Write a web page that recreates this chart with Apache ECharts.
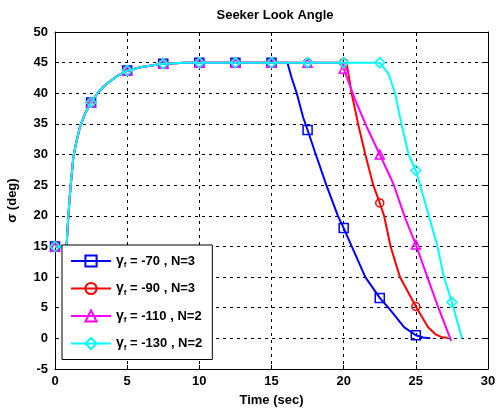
<!DOCTYPE html>
<html>
<head>
<meta charset="utf-8">
<script src="https://cdn.jsdelivr.net/npm/echarts@6/dist/echarts.min.js"></script>
<style>
  html, body { margin: 0; padding: 0; background: #fff; }
  #chart { width: 499px; height: 411px; }
</style>
</head>
<body>
<div id="chart"></div>
<script>
// marker times (every 2.5 s)
const markT = [0, 2.5, 5, 7.5, 10, 12.5, 15, 17.5, 20, 22.5, 25, 27.5];

// common rise, all four runs
const riseT = [0, 0.8, 0.9, 1.0, 1.1, 1.27, 1.5, 1.73, 2.1, 2.5, 3.0, 3.6, 4.3, 5, 6, 7.5, 9, 10, 12.5, 15];
const riseY = [15, 15, 19, 22.5, 25.3, 29.6, 32.3, 34.5, 36.8, 38.5, 40.2, 41.6, 42.8, 43.7, 44.3, 44.8, 45, 45, 45, 45];

// tails
const blueT = [16.1, 16.4, 16.75, 17.2, 17.5, 18.0, 18.8, 19.6, 20, 20.56, 21.5, 22.5, 23.1, 24.2, 25, 25.5, 26.0];
const blueY = [45, 42.5, 40, 36, 34, 30.5, 25, 20, 18, 15, 10, 6.6, 5, 1.8, 0.5, 0.15, 0];

const redT = [17.5, 20, 20.2, 20.55, 21.0, 21.5, 22.05, 22.5, 22.8, 23.25, 23.9, 25, 25.85, 26.4, 26.8, 27.2];
const redY = [45, 45, 45, 40, 35, 30, 25, 22.1, 20, 15, 10, 5.2, 1.8, 0.6, 0.2, 0.1];

const magT = [17.5, 19.8, 20, 20.8, 21.6, 22.5, 23.45, 24.25, 25, 25.8, 26.56, 27.45];
const magY = [45, 45, 44, 38.9, 34.5, 30, 25.2, 19.7, 15.3, 10, 5, -0.4];

const cyanT = [17.5, 20, 22.5, 23.1, 23.56, 24.0, 24.5, 25, 25.3, 25.9, 26.5, 26.95, 27.5, 28.2];
const cyanY = [45, 45, 45, 43.2, 40, 35, 30, 27.4, 25, 20, 15, 10, 5.9, 0];

const names = ['-70 , N=3', '-90 , N=3', '-110 , N=2', '-130 , N=2'];
const colors = ['#0000ff', '#ff0000', '#ff00ff', '#00ffff'];
const symbols = ['rect', 'circle', 'triangle', 'diamond'];
const symSizes = [9, 8, 9, 10];
const tails = [[blueT, blueY], [redT, redY], [magT, magY], [cyanT, cyanY]];

function buildData(tt, yy) {
  const t = riseT.concat(tt), y = riseY.concat(yy);
  return t.map((v, i) => {
    const mk = markT.some(m => Math.abs(m - v) < 1e-6);
    return mk ? [v, y[i]] : { value: [v, y[i]], symbol: 'none' };
  });
}

const font = 'Liberation Sans, Arial, sans-serif';

const series = names.map((n, i) => ({
  name: n,
  type: 'line',
  data: buildData(tails[i][0], tails[i][1]),
  symbol: symbols[i],
  symbolSize: symSizes[i],
  showAllSymbol: true,
  lineStyle: { color: colors[i], width: 2 },
  itemStyle: { color: 'rgba(0,0,0,0)', borderColor: colors[i], borderWidth: 1.5 },
  emphasis: { disabled: true },
  animation: false,
  z: 2 + i
}));

const axisCommon = {
  axisLine: { onZero: false, lineStyle: { color: '#000', width: 1 } },
  axisTick: { inside: true, length: 4, lineStyle: { color: '#000' } },
  axisLabel: { color: '#000', fontFamily: font, fontWeight: 'bold', fontSize: 13 },
  nameTextStyle: { color: '#000', fontFamily: font, fontWeight: 'bold', fontSize: 13 }
};

const chart = echarts.init(document.getElementById('chart'));
chart.setOption({
  backgroundColor: '#fff',
  animation: false,
  title: {
    text: 'Seeker Look Angle',
    left: 270, top: 4, textAlign: 'center',
    textStyle: { fontFamily: font, fontWeight: 'bold', fontSize: 13, color: '#000' }
  },
  grid: { left: 55, top: 32, width: 433, height: 337, outerBoundsMode: 'none' },
  legend: {
    orient: 'vertical',
    left: 62, top: 245,
    width: 155,
    padding: [9, 10, 8, 8],
    itemGap: 12.5,
    itemWidth: 40, itemHeight: 14,
    backgroundColor: '#fff',
    borderColor: '#000', borderWidth: 1, borderRadius: 0,
    formatter: n => '{g|γ}{s|f}{t| = ' + n + '}',
    textStyle: {
      color: '#000',
      rich: {
        g: { fontFamily: font, fontWeight: 'bold', fontSize: 14, color: '#000' },
        s: { fontFamily: font, fontWeight: 'bold', fontSize: 8, color: '#000', padding: [8, 0, 0, 0] },
        t: { fontFamily: font, fontWeight: 'bold', fontSize: 13, color: '#000' }
      }
    },
    z: 20
  },
  xAxis: [
    Object.assign({}, axisCommon, {
      type: 'value', min: 0, max: 30, interval: 5,
      name: 'Time (sec)', nameLocation: 'middle', nameGap: 25,
      splitLine: { show: true, lineStyle: { color: '#000', type: [3, 4], width: 1 } },
      axisLabel: Object.assign({}, axisCommon.axisLabel, { margin: 6 })
    }),
    Object.assign({}, axisCommon, {
      type: 'value', min: 0, max: 30, interval: 5, position: 'top',
      axisLabel: { show: false }, splitLine: { show: false }
    })
  ],
  yAxis: [
    Object.assign({}, axisCommon, {
      type: 'value', min: -5, max: 50, interval: 5,
      name: 'σ (deg)', nameLocation: 'middle', nameGap: 36,
      splitLine: { show: true, lineStyle: { color: '#000', type: [3, 4], width: 1 } },
      axisLabel: Object.assign({}, axisCommon.axisLabel, { margin: 7 })
    }),
    Object.assign({}, axisCommon, {
      type: 'value', min: -5, max: 50, interval: 5, position: 'right',
      axisLabel: { show: false }, splitLine: { show: false }
    })
  ],
  series: series
});
</script>
</body>
</html>
